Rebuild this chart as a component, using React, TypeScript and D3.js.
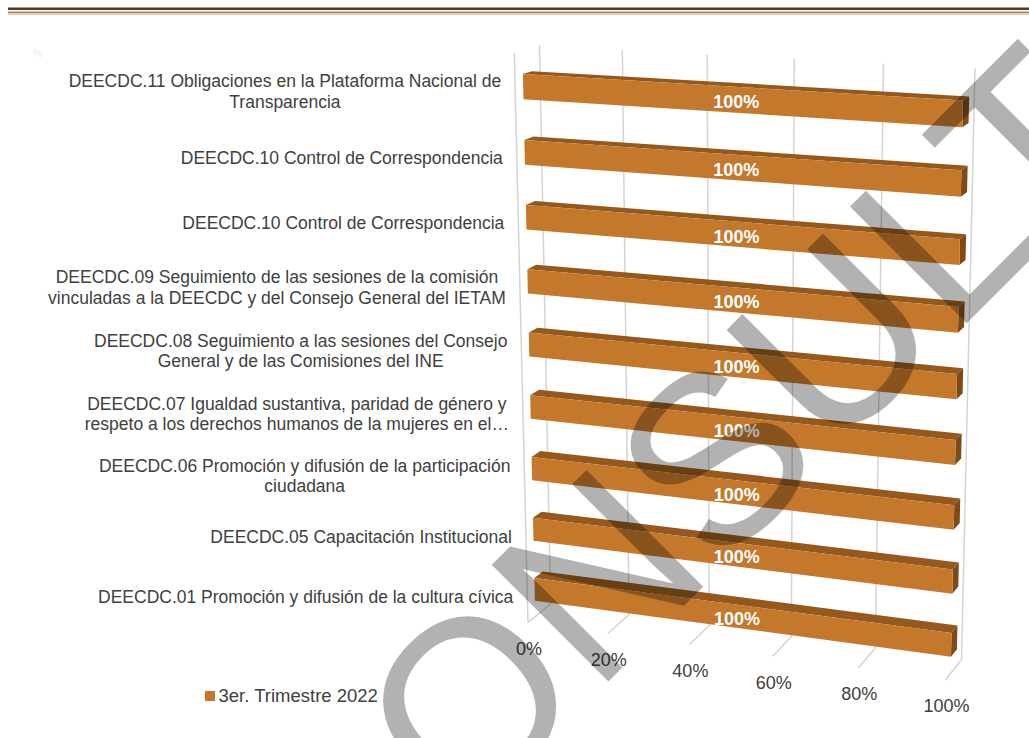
import React from "react";
import * as d3 from "d3";

// ---------- data ----------
const categories: string[] = [
  "DEECDC.11 Obligaciones en la Plataforma Nacional de\nTransparencia",
  "DEECDC.10 Control de Correspondencia",
  "DEECDC.10 Control de Correspondencia",
  "DEECDC.09 Seguimiento de las sesiones de la comisión\nvinculadas a la DEECDC y del Consejo General del IETAM",
  "DEECDC.08 Seguimiento a las sesiones del Consejo\nGeneral y de las Comisiones del INE",
  "DEECDC.07 Igualdad sustantiva, paridad de género y\nrespeto a los derechos humanos de la mujeres en el…",
  "DEECDC.06 Promoción y difusión de la participación\nciudadana",
  "DEECDC.05 Capacitación Institucional",
  "DEECDC.01 Promoción y difusión de la cultura cívica",
];
const values: number[] = [1, 1, 1, 1, 1, 1, 1, 1, 1];
const tickValues: number[] = [0, 0.2, 0.4, 0.6, 0.8, 1];
const seriesName = "3er. Trimestre 2022";
const watermarkText = "CONSULTA";

// ---------- layout / style ----------
const W = 1029;
const H = 738;
const FONT = "'Liberation Sans', Arial, Helvetica, sans-serif";
const TEXT = "#404040";
const BAR_FRONT = "#C4782B";
const BAR_TOP = "#96591D";
const BAR_SIDE = "#7E4A18";
const GRID = "#d4d4d4";

type Pt = [number, number];
// plot-box corners (perspective frame): front plane (z=0) and back wall (z=1)
const FRONT: Pt[] = [[514.3, 53], [958, 79], [945.5, 680], [528, 622.5]];
const BACK: Pt[] = [[539.5, 45.5], [975, 68.5], [961.5, 659.5], [550.6, 604]];
const BAR_Z0 = 0.32;
const BAR_Z1 = 0.69;

function quadMap(p0: Pt, p1: Pt, p2: Pt, p3: Pt) {
  const [x0, y0] = p0, [x1, y1] = p1, [x2, y2] = p2, [x3, y3] = p3;
  const dx1 = x1 - x2, dx2 = x3 - x2, dx3 = x0 - x1 + x2 - x3;
  const dy1 = y1 - y2, dy2 = y3 - y2, dy3 = y0 - y1 + y2 - y3;
  const den = dx1 * dy2 - dx2 * dy1;
  const g = (dx3 * dy2 - dx2 * dy3) / den;
  const h = (dx1 * dy3 - dx3 * dy1) / den;
  const a = x1 - x0 + g * x1, b = x3 - x0 + h * x3, c = x0;
  const d = y1 - y0 + g * y1, e = y3 - y0 + h * y3, f = y0;
  return (u: number, v: number): Pt => {
    const w = g * u + h * v + 1;
    return [(a * u + b * v + c) / w, (d * u + e * v + f) / w];
  };
}
const frontMap = quadMap(FRONT[0], FRONT[1], FRONT[2], FRONT[3]);
const backMap = quadMap(BACK[0], BACK[1], BACK[2], BACK[3]);
function project(u: number, v: number, z: number): Pt {
  const a = frontMap(u, v);
  const b = backMap(u, v);
  return [a[0] + (b[0] - a[0]) * z, a[1] + (b[1] - a[1]) * z];
}
const poly = (pts: Pt[]) => "M" + pts.map((p) => p[0].toFixed(2) + "," + p[1].toFixed(2)).join("L") + "Z";

let measureCtx: CanvasRenderingContext2D | null = null;
function textWidth(s: string, font: string): number {
  if (!measureCtx) {
    const c = document.createElement("canvas");
    measureCtx = c.getContext("2d");
  }
  if (!measureCtx) return s.length * 9;
  measureCtx.font = font;
  return measureCtx.measureText(s).width;
}

export default function App() {
  const x = d3.scaleLinear().domain([0, 1]).range([0, 1]);
  const y = d3
    .scaleBand<number>()
    .domain(categories.map((_, i) => i))
    .range([0, 1])
    .paddingInner(0.62)
    .paddingOuter(0.31)
    .align(0.57);
  const bw = y.bandwidth();
  const fmt = d3.format(".0%");

  const catFontSize = 17.5;
  const catFont = `${catFontSize}px ${FONT}`;
  const lineH = 20.5;

  return (
    <svg
      width={W}
      height={H}
      viewBox={`0 0 ${W} ${H}`}
      style={{ position: "absolute", left: 0, top: 0, background: "#fff" }}
      fontFamily={FONT}
    >
      <rect x={0} y={0} width={W} height={H} fill="#ffffff" />
      {/* document header rules */}
      <rect x={8} y={7.5} width={W - 8} height={2.5} fill="#4f3b28" />
      <rect x={8} y={11.5} width={W - 8} height={1.5} fill="#a9825a" />
      <rect x={8} y={13} width={W - 8} height={2} fill="#e6cfb2" />
      <text x={33} y={57} fontSize={11} fill="#ececec">%</text>

      {/* back wall + floor gridlines */}
      {tickValues.map((t) => {
        const a = project(x(t), 0, 1);
        const b = project(x(t), 1, 1);
        const c = project(x(t), 1, 0);
        return (
          <path
            key={"g" + t}
            d={`M${a[0]},${a[1]}L${b[0]},${b[1]}L${c[0]},${c[1]}`}
            fill="none"
            stroke={GRID}
            strokeWidth={1.5}
          />
        );
      })}
      {(() => {
        const a = project(0, 0, 0);
        const b = project(0, 1, 0);
        return <line x1={a[0]} y1={a[1]} x2={b[0]} y2={b[1]} stroke={GRID} strokeWidth={1.5} />;
      })()}

      {/* bars */}
      {values.map((val, i) => {
        const v0 = y(i) as number;
        const v1 = v0 + bw;
        const u1 = x(val);
        const front: Pt[] = [project(0, v0, BAR_Z0), project(u1, v0, BAR_Z0), project(u1, v1, BAR_Z0), project(0, v1, BAR_Z0)];
        const top: Pt[] = [project(0, v0, BAR_Z0), project(u1, v0, BAR_Z0), project(u1, v0, BAR_Z1), project(0, v0, BAR_Z1)];
        const side: Pt[] = [project(u1, v0, BAR_Z0), project(u1, v0, BAR_Z1), project(u1, v1, BAR_Z1), project(u1, v1, BAR_Z0)];
        return (
          <g key={"b" + i}>
            <path d={poly(top)} fill={BAR_TOP} />
            <path d={poly(side)} fill={BAR_SIDE} />
            <path d={poly(front)} fill={BAR_FRONT} />
          </g>
        );
      })}

      {/* data labels */}
      {values.map((val, i) => {
        const vc = (y(i) as number) + bw / 2;
        const p = project(x(val) / 2, vc, BAR_Z0);
        return (
          <text
            key={"d" + i}
            x={p[0]}
            y={p[1] + 2}
            dy="0.35em"
            textAnchor="middle"
            fontSize={18}
            fontWeight="bold"
            fill="#ffffff"
          >
            {fmt(val)}
          </text>
        );
      })}

      {/* category labels */}
      {categories.map((cat, i) => {
        const vc = (y(i) as number) + bw / 2;
        const p = project(0, vc, 0);
        const lines = cat.split("\n");
        const blockW = Math.max(...lines.map((l) => textWidth(l, catFont)));
        const right = p[0] - 14;
        const cx = right - blockW / 2;
        const cy = p[1] + 2;
        return (
          <text key={"c" + i} fontSize={catFontSize} fill={TEXT} textAnchor="middle">
            {lines.map((l, k) => (
              <tspan key={k} x={cx} y={cy + (k - (lines.length - 1) / 2) * lineH} dy="0.35em">
                {l}
              </tspan>
            ))}
          </text>
        );
      })}

      {/* value axis tick labels */}
      {tickValues.map((t) => {
        const p = project(x(t), 1, 0);
        return (
          <text key={"t" + t} x={p[0] + 1} y={p[1] + 26} dy="0.35em" textAnchor="middle" fontSize={18} fill={TEXT}>
            {fmt(t)}
          </text>
        );
      })}

      {/* legend */}
      <rect x={205} y={691} width={10} height={10} fill={BAR_FRONT} />
      <text x={218.5} y={696} dy="0.35em" fontSize={18.5} fill={TEXT}>
        {seriesName}
      </text>

      {/* watermark */}
      <text
        transform="translate(340,950) rotate(-45)"
        fontSize={240}
        fill="#000000"
        fillOpacity={0.3}
      >
        {watermarkText}
      </text>
    </svg>
  );
}
